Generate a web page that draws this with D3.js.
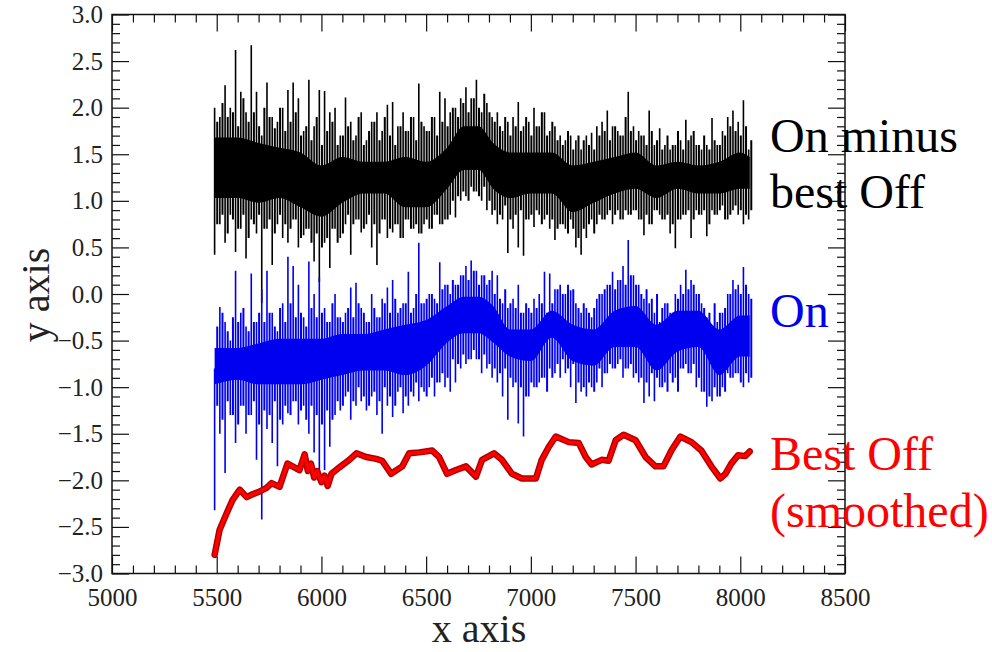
<!DOCTYPE html>
<html>
<head>
<meta charset="utf-8">
<script src="https://cdn.jsdelivr.net/npm/d3@7"></script>
<style>
  body { margin: 0; background: #fff; }
  svg text { font-family: "Liberation Serif", "Times New Roman", serif; }
</style>
</head>
<body>
<svg id="chart" width="992" height="652"></svg>
<script>
// sample grid (x axis units); a second set of spikes sits half a step later
const sampleX = d3.range(5490, 8050, 25);

// "On minus best Off" trace: big spike tops / bottoms
const diffHi = [
  2.0, 1.9, 2.24, 2.0, 2.62, 2.17, 1.95, 2.67, 2.17, 1.7,
  2.27, 1.9, 1.85, 2.0, 2.19, 2.27, 2.1, 1.75, 2.3, 1.8,
  2.19, 2.18, 1.95, 2.0, 1.7, 2.11, 1.85, 1.7, 1.95, 1.65,
  1.85, 1.95, 1.75, 2.03, 2.06, 1.8, 1.95, 1.75, 1.9, 2.26,
  1.8, 1.75, 1.9, 2.17, 2.1, 1.95, 2.0, 2.1, 2.22, 2.1,
  2.3, 1.95, 2.05, 1.9, 1.95, 1.75, 1.85, 1.9, 2.06, 1.8,
  1.85, 2.0, 1.8, 1.95, 1.75, 1.8, 1.7, 1.65, 1.7, 1.65,
  1.55, 1.7, 1.73, 1.8, 1.85, 1.97, 1.8, 1.75, 1.7, 2.17,
  1.8, 1.75, 1.7, 1.97, 1.6, 1.78, 1.6, 1.55, 1.6, 1.65,
  1.87, 1.7, 1.6, 1.55, 1.6, 1.89, 1.6, 1.75, 1.9, 1.97,
  1.85, 2.08, 1.55
];
const diffLo = [
  0.42, 0.75, 0.55, 0.85, 0.45, 0.7, 0.38, 0.8, 0.65, -0.1,
  0.7, 0.31, 0.75, 0.6, 0.55, 0.8, 0.5, 0.63, 0.7, 0.35,
  0.13, 0.55, 0.28, 0.7, 0.6, 0.75, 0.42, 0.8, 0.66, 0.75,
  0.5, 0.31, 0.8, 0.6, 0.66, 0.75, 0.6, 0.8, 0.7, 0.65,
  0.75, 0.7, 0.85, 0.75, 0.8, 0.85, 0.82, 1.0, 1.05, 1.15,
  1.1, 1.0, 0.9, 0.85, 0.75, 0.8, 0.44, 0.7, 0.5, 0.41,
  0.8, 0.72, 0.85, 0.8, 0.7, 0.58, 0.75, 0.7, 0.8, 0.5,
  0.42, 0.6, 0.8, 0.75, 0.8, 0.85, 0.75, 0.9, 0.8, 0.85,
  0.9, 0.8, 0.63, 0.75, 0.9, 0.85, 0.8, 0.65, 0.49, 0.8,
  0.85, 0.6, 0.9, 0.85, 0.62, 0.9, 0.85, 0.95, 0.8, 0.9,
  0.85, 0.75, 0.8
];
// smaller spikes in between
const diffHi2 = [
  1.85, 2.05, 1.9, 1.95, 1.8, 2.1, 1.85, 1.95, 1.8, 2.0,
  1.9, 1.78, 2.0, 1.75, 1.85, 1.95, 1.7, 1.8, 1.65, 1.9,
  1.6, 1.75, 1.85, 1.6, 1.7, 1.8, 1.65, 1.9, 1.6, 1.75,
  1.85, 1.65, 1.9, 1.7, 1.6, 1.8, 1.75, 1.9, 1.65, 1.85,
  1.75, 1.9, 1.7, 1.85, 1.8, 2.0, 1.9, 2.05, 1.95, 2.1,
  2.0, 2.15, 1.95, 1.85, 1.8, 1.9, 1.7, 1.8, 1.75, 1.9,
  1.7, 1.8, 1.95, 1.7, 1.85, 1.65, 1.6, 1.75, 1.55, 1.7,
  1.65, 1.6, 1.55, 1.7, 1.75, 1.65, 1.8, 1.7, 1.9, 1.75,
  1.65, 1.7, 1.6, 1.75, 1.65, 1.55, 1.7, 1.6, 1.75, 1.55,
  1.65, 1.75, 1.6, 1.7, 1.55, 1.65, 1.6, 1.7, 1.8, 1.75,
  1.7, 1.8, 1.65
];
const diffLo2 = [
  0.75, 0.85, 0.65, 0.8, 0.7, 0.85, 0.6, 0.75, 0.85, 0.7,
  0.8, 0.65, 0.85, 0.75, 0.7, 0.8, 0.6, 0.7, 0.55, 0.65,
  0.5, 0.6, 0.7, 0.55, 0.65, 0.85, 0.75, 0.8, 0.7, 0.85,
  0.75, 0.65, 0.8, 0.7, 0.75, 0.6, 0.8, 0.7, 0.75, 0.65,
  0.8, 0.7, 0.85, 0.75, 0.8, 1.0, 1.05, 1.1, 1.0, 1.1,
  1.05, 1.15, 1.0, 0.9, 0.85, 0.95, 0.8, 0.85, 0.9, 0.8,
  0.85, 0.9, 0.75, 0.85, 0.8, 0.7, 0.75, 0.65, 0.7, 0.6,
  0.7, 0.75, 0.65, 0.85, 0.8, 0.9, 0.85, 0.8, 0.9, 0.85,
  0.9, 0.8, 0.85, 0.75, 0.9, 0.8, 0.85, 0.75, 0.8, 0.85,
  0.9, 0.8, 0.85, 0.9, 0.75, 0.85, 0.9, 0.8, 0.85, 0.95,
  0.9, 0.85, 0.9
];

// "On" trace
const onHi = [
  -0.8, -0.14, -0.3, -0.5, 0.25, -0.2, -0.35, 0.22, -0.3, 0.05,
  0.25, -0.2, -0.4, -0.1, 0.4, 0.3, 0.1, -0.25, 0.35, 0.0,
  0.18, -0.15, -0.3, 0.0, -0.25, -0.2, 0.07, 0.12, -0.15, -0.3,
  0.0, -0.25, -0.05, 0.07, 0.15, -0.2, -0.1, 0.24, -0.15, 0.55,
  -0.1, 0.0, -0.05, 0.34, 0.1, 0.0, 0.1, 0.2, 0.3, 0.36,
  0.25, 0.2, 0.1, 0.25, 0.2, -0.1, -0.15, -0.05, 0.1, -0.2,
  -0.15, -0.05, 0.0, 0.24, 0.22, 0.05, 0.1, 0.0, 0.04, -0.1,
  -0.2, -0.15, -0.25, -0.05, 0.0, 0.1, 0.24, 0.15, 0.3, 0.58,
  0.2, 0.1, -0.05, -0.1, -0.2, -0.3, -0.1, -0.2, 0.0, 0.1,
  0.26, 0.15, 0.0, -0.1, -0.25, -0.35, -0.3, -0.2, 0.0, 0.15,
  0.1, 0.29, 0.0
];
const onLo = [
  -2.32, -1.5, -1.92, -1.3, -1.6, -1.2, -1.5, -1.3, -1.78, -2.42,
  -1.45, -1.6, -1.85, -1.4, -1.28, -1.15, -1.4, -1.2, -1.5, -1.7,
  -1.9, -1.89, -1.64, -1.3, -1.25, -1.1, -1.35, -1.2, -1.15, -1.25,
  -1.1, -1.3, -1.5, -1.2, -1.32, -1.05, -1.28, -1.2, -1.1, -1.15,
  -1.05, -1.0, -1.1, -0.95, -1.0, -1.05, -0.95, -0.8, -0.75, -0.7,
  -0.7, -0.85, -0.8, -0.9, -0.95, -1.1, -1.35, -1.0, -1.39, -1.53,
  -1.1, -1.0, -0.95, -0.9, -0.8, -0.85, -0.9, -0.85, -1.0, -1.17,
  -1.05, -1.1, -1.0, -0.95, -1.0, -0.85, -0.8, -0.75, -0.9, -0.8,
  -0.9, -0.95, -1.17, -1.1, -1.15, -1.0, -0.95, -0.85, -0.9, -0.8,
  -0.75, -0.85, -1.0, -1.05, -1.21, -1.15, -1.1, -1.0, -0.85, -0.9,
  -0.85, -1.0, -0.95
];
const onHi2 = [
  -0.35, -0.2, -0.4, -0.25, -0.3, -0.15, -0.4, -0.3, -0.2, -0.3,
  -0.2, -0.35, -0.15, -0.3, -0.1, -0.25, -0.2, -0.35, -0.15, -0.25,
  -0.2, -0.3, -0.1, -0.25, -0.3, -0.15, -0.25, -0.1, -0.2, -0.3,
  -0.15, -0.25, -0.1, -0.2, -0.05, -0.15, -0.1, -0.2, 0.0, -0.1,
  -0.05, 0.0, -0.1, 0.05, 0.1, 0.15, 0.1, 0.2, 0.15, 0.25,
  0.1, 0.2, 0.15, 0.0, -0.05, 0.05, -0.1, -0.15, -0.2, -0.1,
  -0.2, -0.15, -0.1, -0.2, -0.1, 0.05, 0.0, 0.1, 0.05, -0.15,
  -0.1, -0.2, -0.15, 0.0, 0.05, 0.1, 0.05, 0.15, 0.1, 0.2,
  0.1, 0.0, 0.05, -0.05, 0.0, -0.15, -0.1, -0.2, -0.05, 0.0,
  0.05, 0.1, 0.0, -0.15, -0.2, -0.1, -0.2, -0.15, 0.0, 0.05,
  0.0, 0.1, -0.05
];
const onLo2 = [
  -1.2, -1.35, -1.15, -1.3, -1.4, -1.2, -1.3, -1.15, -1.4, -1.25,
  -1.3, -1.15, -1.35, -1.2, -1.3, -1.15, -1.25, -1.35, -1.2, -1.3,
  -1.4, -1.25, -1.35, -1.15, -1.2, -1.05, -1.15, -1.0, -1.1, -1.2,
  -1.05, -1.15, -1.0, -1.1, -1.2, -1.0, -1.1, -1.05, -0.95, -1.0,
  -1.1, -0.9, -0.95, -0.85, -0.9, -0.7, -0.75, -0.65, -0.7, -0.6,
  -0.7, -0.65, -0.75, -0.8, -0.85, -0.8, -0.9, -0.95, -1.0, -1.1,
  -0.95, -1.0, -0.9, -1.05, -0.9, -0.75, -0.7, -0.8, -0.75, -0.95,
  -1.0, -0.95, -1.05, -0.8, -0.85, -0.75, -0.8, -0.7, -0.8, -0.75,
  -0.85, -0.9, -0.95, -0.85, -0.9, -1.0, -1.05, -0.95, -1.05, -0.8,
  -0.85, -0.75, -0.9, -1.05, -1.1, -1.0, -1.1, -1.05, -0.9, -0.85,
  -0.95, -0.85, -0.9
];

// solid core of each noisy trace
const coreX = [5490, 5600, 5700, 5800, 5900, 6000, 6100, 6200, 6300, 6400,
  6500, 6600, 6680, 6750, 6820, 6900, 7000, 7100, 7200, 7300,
  7400, 7500, 7600, 7700, 7800, 7900, 8000, 8045];
const diffTop = [1.68, 1.68, 1.62, 1.57, 1.52, 1.38, 1.47, 1.42, 1.42, 1.47,
  1.42, 1.57, 1.8, 1.8, 1.62, 1.52, 1.52, 1.52, 1.38, 1.42,
  1.47, 1.52, 1.38, 1.42, 1.38, 1.42, 1.52, 1.47];
const diffBot = [1.03, 1.03, 0.98, 1.03, 0.93, 0.83, 0.98, 1.08, 1.08, 0.93,
  0.93, 1.13, 1.33, 1.33, 1.13, 1.03, 1.08, 1.08, 0.88, 0.98,
  1.08, 1.13, 1.03, 1.13, 1.08, 1.08, 1.13, 1.13];
const onTop = [-0.58, -0.58, -0.53, -0.48, -0.48, -0.48, -0.43, -0.43, -0.38, -0.33,
  -0.28, -0.13, -0.03, -0.03, -0.13, -0.38, -0.38, -0.18, -0.33, -0.38,
  -0.18, -0.13, -0.33, -0.18, -0.18, -0.38, -0.23, -0.23];
const onBot = [-0.97, -0.92, -0.97, -0.97, -0.97, -0.92, -0.87, -0.82, -0.82, -0.87,
  -0.77, -0.52, -0.42, -0.42, -0.52, -0.67, -0.72, -0.47, -0.72, -0.77,
  -0.57, -0.57, -0.82, -0.62, -0.57, -0.87, -0.67, -0.67];

// "Best Off (smoothed)"
const offX = [5490, 5514, 5548, 5576, 5610, 5643, 5671, 5705, 5738, 5762,
  5800, 5838, 5862, 5895, 5920, 5935, 5950, 5965, 5980, 6000,
  6015, 6030, 6048, 6086, 6133, 6167, 6214, 6262, 6290, 6333,
  6386, 6419, 6467, 6529, 6562, 6600, 6643, 6690, 6738, 6767,
  6824, 6862, 6910, 6957, 7024, 7052, 7086, 7119, 7181, 7229,
  7262, 7290, 7338, 7371, 7405, 7443, 7500, 7548, 7595, 7633,
  7671, 7714, 7767, 7814, 7862, 7905, 7929, 7957, 7990, 8024, 8045];
const offY = [-2.8, -2.53, -2.35, -2.21, -2.1, -2.18, -2.15, -2.12, -2.08, -2.03,
  -2.07, -1.82, -1.85, -1.89, -1.72, -1.9, -1.82, -1.97, -1.9, -2.02,
  -1.95, -2.06, -1.93, -1.86, -1.78, -1.71, -1.75, -1.77, -1.79, -1.93,
  -1.85, -1.71, -1.7, -1.68, -1.75, -1.93, -1.89, -1.85, -1.96, -1.78,
  -1.71, -1.78, -1.93, -1.98, -1.98, -1.78, -1.64, -1.53, -1.59, -1.6,
  -1.75, -1.83, -1.78, -1.79, -1.57, -1.51, -1.57, -1.75, -1.85, -1.85,
  -1.68, -1.53, -1.59, -1.68, -1.85, -1.98, -1.93, -1.82, -1.73, -1.74, -1.69];

const xMajor = [5000, 5500, 6000, 6500, 7000, 7500, 8000, 8500];
const yMajor = [-3, -2.5, -2, -1.5, -1, -0.5, 0, 0.5, 1, 1.5, 2, 2.5, 3];

const svg = d3.select("#chart");
const padL = 112, padR = 845, padT = 14.5, padB = 573.5;

const x = d3.scaleLinear().domain([5000, 8500]).range([padL, padR]);
const y = d3.scaleLinear().domain([-3, 3]).range([padB, padT]);

const xMinor = d3.range(5000, 8501, 100).filter(v => v % 500 !== 0);
const yMinor = d3.range(-30, 31, 1).map(v => v / 10).filter(v => Math.round(v * 10) % 5 !== 0);

const plot = svg.append("g");

function spikes(hi, lo, shift) {
  let d = "";
  sampleX.forEach((sx, i) => {
    d += `M${x(sx + shift)},${y(hi[i])}V${y(lo[i])}`;
  });
  return d;
}

// one noisy trace = solid core + two interleaved sets of vertical spikes
function drawTrace(top, bot, hi, lo, hi2, lo2, color) {
  const core = coreX.map((cx, i) => [cx, top[i], bot[i]]);
  plot.append("path")
    .attr("d", d3.area().curve(d3.curveMonotoneX)
      .x(d => x(d[0])).y0(d => y(d[2])).y1(d => y(d[1]))(core))
    .attr("fill", color);
  plot.append("path")
    .attr("d", spikes(hi2, lo2, 12.5))
    .attr("fill", "none").attr("stroke", color).attr("stroke-width", 2);
  plot.append("path")
    .attr("d", spikes(hi, lo, 0))
    .attr("fill", "none").attr("stroke", color).attr("stroke-width", 1.6);
}

drawTrace(diffTop, diffBot, diffHi, diffLo, diffHi2, diffLo2, "#000");
drawTrace(onTop, onBot, onHi, onLo, onHi2, onLo2, "#0000f0");

const line = d3.line().x(d => x(d[0])).y(d => y(d[1]));
const offPts = offX.map((v, i) => [v, offY[i]]);
plot.append("path")
  .attr("d", line(offPts))
  .attr("fill", "none").attr("stroke", "#b00000").attr("stroke-width", 6.5)
  .attr("stroke-linejoin", "round").attr("stroke-linecap", "round");
plot.append("path")
  .attr("d", line(offPts))
  .attr("fill", "none").attr("stroke", "#ff0000").attr("stroke-width", 3.5)
  .attr("stroke-linejoin", "round").attr("stroke-linecap", "round");

// axes, ticks pointing inward on all four sides
function styleAxis(g) {
  g.select(".domain").remove();
  g.selectAll("line").attr("stroke", "#111").attr("stroke-width", 1.2);
  g.selectAll("text").attr("fill", "#222").style("font-size", "25px")
    .style("font-family", "'Liberation Serif', serif");
}

svg.append("g").attr("transform", `translate(0,${padB})`)
  .call(d3.axisBottom(x).tickValues(xMajor).tickSize(-17).tickPadding(15).tickFormat(d3.format("d")))
  .call(styleAxis);
svg.append("g").attr("transform", `translate(0,${padB})`)
  .call(d3.axisBottom(x).tickValues(xMinor).tickSize(-8).tickFormat(""))
  .call(styleAxis);
svg.append("g").attr("transform", `translate(0,${padT})`)
  .call(d3.axisTop(x).tickValues(xMajor).tickSize(-17).tickFormat(""))
  .call(styleAxis);
svg.append("g").attr("transform", `translate(0,${padT})`)
  .call(d3.axisTop(x).tickValues(xMinor).tickSize(-8).tickFormat(""))
  .call(styleAxis);

svg.append("g").attr("transform", `translate(${padL},0)`)
  .call(d3.axisLeft(y).tickValues(yMajor).tickSize(-17).tickPadding(9).tickFormat(d3.format(".1f")))
  .call(styleAxis);
svg.append("g").attr("transform", `translate(${padL},0)`)
  .call(d3.axisLeft(y).tickValues(yMinor).tickSize(-8).tickFormat(""))
  .call(styleAxis);
svg.append("g").attr("transform", `translate(${padR},0)`)
  .call(d3.axisRight(y).tickValues(yMajor).tickSize(-17).tickFormat(""))
  .call(styleAxis);
svg.append("g").attr("transform", `translate(${padR},0)`)
  .call(d3.axisRight(y).tickValues(yMinor).tickSize(-8).tickFormat(""))
  .call(styleAxis);

svg.append("rect")
  .attr("x", padL).attr("y", padT)
  .attr("width", padR - padL).attr("height", padB - padT)
  .attr("fill", "none").attr("stroke", "#111").attr("stroke-width", 1.5);

// series labels
const labels = [
  { t: "On minus", y: 152, c: "#000" },
  { t: "best Off", y: 208, c: "#000" },
  { t: "On", y: 327, c: "#0000f0" },
  { t: "Best Off", y: 470, c: "#ff0000" },
  { t: "(smoothed)", y: 527, c: "#ff0000" }
];
svg.selectAll(".lab").data(labels).join("text")
  .attr("class", "lab")
  .attr("x", 770).attr("y", d => d.y)
  .attr("fill", d => d.c)
  .style("font-size", "48px")
  .text(d => d.t);

// axis titles
svg.append("text")
  .attr("x", 479).attr("y", 642)
  .attr("text-anchor", "middle")
  .style("font-size", "40px").attr("fill", "#222")
  .text("x axis");
svg.append("text")
  .attr("transform", "translate(49,295) rotate(-90)")
  .attr("text-anchor", "middle")
  .style("font-size", "40px").attr("fill", "#222")
  .text("y axis");
</script>
</body>
</html>
